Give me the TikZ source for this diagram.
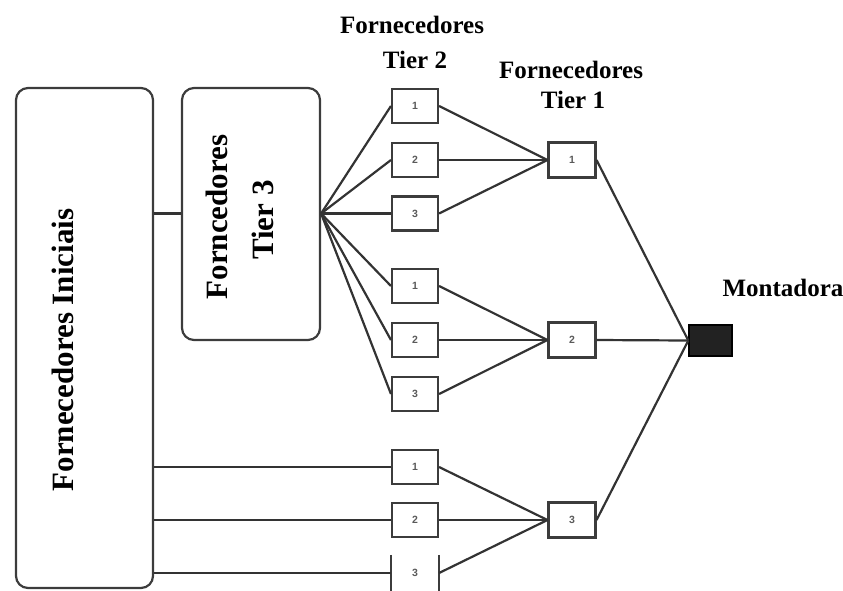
\documentclass[tikz,border=0pt]{standalone}
\usepackage{fontspec}
\setmainfont{Liberation Serif}
\newfontfamily\numfont{Liberation Sans}
\definecolor{linegray}{HTML}{333333}
\definecolor{boxgray}{HTML}{3C3C3C}
\definecolor{numgray}{HTML}{5A5A5A}
\definecolor{darkfill}{HTML}{222222}
\begin{document}
\begin{tikzpicture}[x=1pt,y=-1pt,
  conn/.style={draw=linegray,line width=2.2pt},
  bigbox/.style={draw=boxgray,line width=2.2pt,rounded corners=12pt,inner sep=0pt},
  supbox/.style={draw=boxgray,line width=2.1pt,minimum width=46pt,minimum height=34pt,inner sep=0pt,
    font=\numfont\fontsize{10.5}{10.5}\selectfont\bfseries,text=numgray},
  openbox/.style={supbox,draw=none},
  tierlbl/.style={anchor=base,inner sep=0pt,font=\fontsize{25}{25}\selectfont\bfseries},
  sidelbl/.style={anchor=base,inner sep=0pt,rotate=90,font=\fontsize{31}{31}\selectfont\bfseries}
]
\useasboundingbox (0,0) rectangle (843,590);

% big suppliers boxes
\node[bigbox,minimum width=137pt,minimum height=500pt] (ini) at (84.5,338) {};
\node[bigbox,minimum width=138pt,minimum height=252pt] (t3) at (251,214) {};
\node[sidelbl] (inilbl) at (73,350) {Fornecedores Iniciais};
\node[sidelbl] (t3lbla) at (227,217) {Forncedores};
\node[sidelbl] (t3lblb) at (273,220) {Tier 3};

% tier 2 suppliers
\node[supbox] (a1) at (415,106) {1};
\node[supbox] (a2) at (415,160) {2};
\node[supbox] (a3) at (415,213.5) {3};
\node[supbox] (b1) at (415,286) {1};
\node[supbox] (b2) at (415,340) {2};
\node[supbox] (b3) at (415,394) {3};
\node[supbox] (c1) at (415,467) {1};
\node[supbox] (c2) at (415,520) {2};
\node[openbox] (c3) at (415,573) {3};
\draw[draw=boxgray,line width=2.1pt] (c3.north west) -- (c3.south west)
  (c3.north east) -- (c3.south east);

% tier 1 suppliers
\node[supbox,minimum width=47pt,minimum height=35pt] (t1a) at (572,160) {1};
\node[supbox,minimum width=47pt,minimum height=35pt] (t1b) at (572,340) {2};
\node[supbox,minimum width=47pt,minimum height=35pt] (t1c) at (572,520) {3};

% assembler
\node[draw=black,line width=1.4pt,fill=darkfill,minimum width=43pt,minimum height=31pt,inner sep=0pt] (mont) at (710.5,340.5) {};

% labels
\node[tierlbl] (l2a) at (412,33) {Fornecedores};
\node[tierlbl] (l2b) at (415,68) {Tier 2};
\node[tierlbl] (l1a) at (571,78) {Fornecedores};
\node[tierlbl] (l1b) at (573,108) {Tier 1};
\node[tierlbl] (lm) at (783,296) {Montadora};

% connectors
\coordinate (fan) at (t3.east |- a3.west);
\draw[conn] (ini.east |- fan) -- (t3.west |- fan);
\foreach \b in {a1,a2,a3,b1,b2,b3} \draw[conn] (fan) -- (\b.west);
\foreach \b in {c1,c2,c3} \draw[conn] (ini.east |- \b.west) -- (\b.west);
\foreach \b in {a1,a2,a3} \draw[conn] (\b.east) -- (t1a.west);
\foreach \b in {b1,b2,b3} \draw[conn] (\b.east) -- (t1b.west);
\foreach \b in {c1,c2,c3} \draw[conn] (\b.east) -- (t1c.west);
\draw[conn] (t1a.east) -- (mont.west);
\draw[conn] (t1b.east) -- (mont.west);
\draw[conn] (t1c.east) -- (mont.west);
\end{tikzpicture}
\end{document}
